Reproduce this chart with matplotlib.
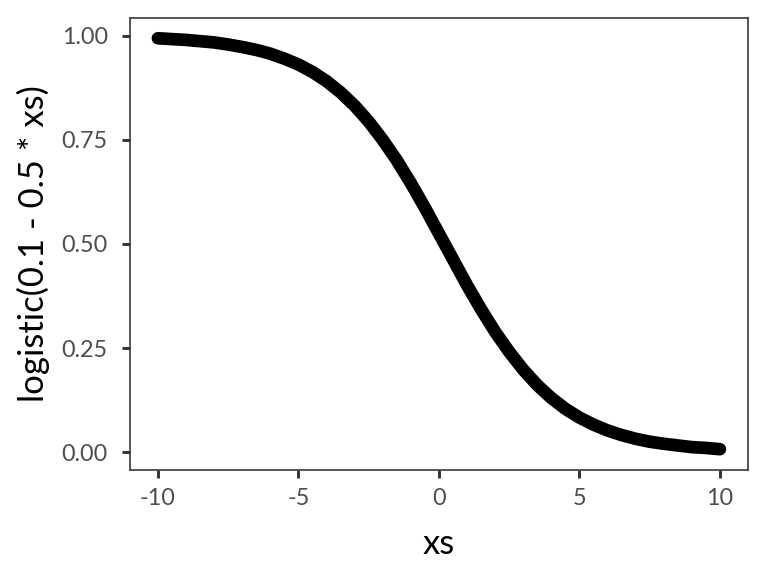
import matplotlib
matplotlib.use('Agg')
import matplotlib.pyplot as plt

# values
xs = [-10, -9.5, -9, -8.5, -8, -7.5, -7, -6.5, -6, -5.5, -5, -4.5, -4, -3.5, -3,
      -2.5, -2, -1.5, -1, -0.5, 0, 0.5, 1, 1.5, 2, 2.5, 3, 3.5, 4, 4.5, 5,
      5.5, 6, 6.5, 7, 7.5, 8, 8.5, 9, 9.5, 10]
ys = [0.994, 0.992, 0.990, 0.987, 0.984, 0.979, 0.973, 0.966, 0.957, 0.945, 0.931,
      0.913, 0.891, 0.864, 0.832, 0.794, 0.750, 0.701, 0.646, 0.587, 0.525,
      0.463, 0.401, 0.343, 0.289, 0.241, 0.198, 0.161, 0.130, 0.104, 0.083,
      0.066, 0.052, 0.041, 0.032, 0.025, 0.020, 0.016, 0.012, 0.010, 0.007]

x_ticks = [-10, -5, 0, 5, 10]
y_ticks = [0.0, 0.25, 0.5, 0.75, 1.0]
y_tick_labels = ['0.00', '0.25', '0.50', '0.75', '1.00']

plt.rcParams['font.family'] = ['Lato', 'DejaVu Sans']

fig = plt.figure(figsize=(8, 6), dpi=96)
ax = fig.add_axes([0.169, 0.184, 0.805, 0.785])

ax.plot(xs, ys, color='black', linewidth=9.5, solid_capstyle='round',
        solid_joinstyle='round')

ax.set_xlim(-11, 11)
ax.set_ylim(-0.043, 1.043)
ax.set_xticks(x_ticks)
ax.set_xticklabels([str(t) for t in x_ticks])
ax.set_yticks(y_ticks)
ax.set_yticklabels(y_tick_labels)

for s in ax.spines.values():
    s.set_color('#333333')
    s.set_linewidth(1.2)
ax.tick_params(length=6, width=2.2, color='#333333', labelcolor='#4d4d4d',
               labelsize=17.5)
ax.tick_params(axis='x', pad=7.5)
ax.tick_params(axis='y', pad=10.5)

ax.set_xlabel('xs', fontsize=26, color='black', labelpad=14)
ax.set_ylabel('logistic(0.1 - 0.5 * xs)', fontsize=26, color='black', labelpad=9)

fig.savefig('out.png', dpi=96)
